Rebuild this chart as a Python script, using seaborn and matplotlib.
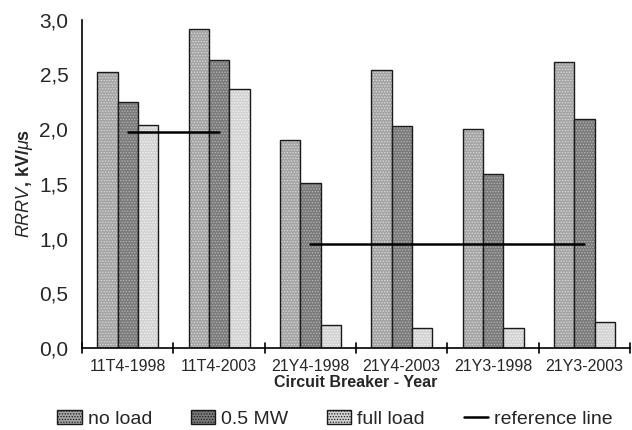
import matplotlib
matplotlib.use("Agg")
import matplotlib.pyplot as plt
import seaborn as sns
import pandas as pd
from matplotlib.patches import Patch
from matplotlib.lines import Line2D

categories = ["11T4-1998", "11T4-2003", "21Y4-1998", "21Y4-2003", "21Y3-1998", "21Y3-2003"]
no_load = [2.52, 2.92, 1.90, 2.54, 2.00, 2.61]
half_mw = [2.25, 2.63, 1.51, 2.03, 1.59, 2.09]
full_load = [2.04, 2.37, 0.21, 0.18, 0.18, 0.235]
series_names = ["no load", "0.5 MW", "full load"]
ref_segments = [("11T4-1998", "11T4-2003", 1.97), ("21Y4-1998", "21Y3-2003", 0.95)]
yticks = [0.0, 0.5, 1.0, 1.5, 2.0, 2.5, 3.0]

sns.set_theme(style="white")
plt.rcParams["font.family"] = ["Liberation Sans", "DejaVu Sans"]
plt.rcParams["mathtext.fontset"] = "custom"
plt.rcParams["mathtext.it"] = "Liberation Sans:italic"
plt.rcParams["mathtext.rm"] = "Liberation Sans:bold"
plt.rcParams["hatch.linewidth"] = 0.6

df = pd.DataFrame({
    "cat": categories * 3,
    "val": no_load + half_mw + full_load,
    "series": sum([[s] * len(categories) for s in series_names], []),
})

colors = ["#a4a4a4", "#7a7a7a", "#d2d2d2"]
hatch_colors = ["#dcdcdc", "#b8b8b8", "#f6f6f6"]

fig = plt.figure(figsize=(6.32, 4.30), dpi=100)
ax = fig.add_axes([0.130, 0.191, 0.867, 0.763])
sns.barplot(data=df, x="cat", y="val", hue="series", order=categories,
            hue_order=series_names, palette=colors, width=0.667, gap=0,
            saturation=1, ax=ax, legend=False, edgecolor="#1a1a1a", linewidth=1.0)

for cont, hc in zip(ax.containers, hatch_colors):
    for bar in cont:
        bar.set_hatch("......")
        bar._hatch_color = matplotlib.colors.to_rgba(hc)

for a, b, v in ref_segments:
    ax.plot([categories.index(a), categories.index(b)], [v, v], color="black", lw=1.8)

ax.set_ylim(0, 3.0)
ax.set_xlim(-0.5, len(categories) - 0.5)
ax.set_yticks(yticks)
ax.set_yticklabels([f"{t:.1f}".replace(".", ",") for t in yticks], fontsize=15)
ax.set_xticks(range(len(categories)))
ax.set_xticklabels(categories, fontsize=11.5)
ax.tick_params(axis="x", length=0, pad=8)
ax.tick_params(axis="y", direction="inout", length=10, width=1.2, pad=5)
for k in range(len(categories) + 1):
    ax.plot([k - 0.5, k - 0.5], [-0.045, 0.045], color="black", lw=1.2,
            clip_on=False, transform=ax.transData)

sns.despine(ax=ax)
for s in ["left", "bottom"]:
    ax.spines[s].set_color("black")
    ax.spines[s].set_linewidth(1.2)

ax.set_xlabel("Circuit Breaker - Year", fontsize=11.5, fontweight="bold", labelpad=1)
ax.set_ylabel(r"$\mathit{RRRV}$, kV/$\mu$s", fontsize=13, fontweight="bold", labelpad=3)

handles = [Patch(facecolor=c, edgecolor="#1a1a1a", hatch="......", lw=1.0) for c in colors]
handles.append(Line2D([0], [0], color="black", lw=1.8))
fig.legend(handles, series_names + ["reference line"], loc="lower center",
           ncol=4, frameon=False, fontsize=14, bbox_to_anchor=(0.530, -0.035),
           handlelength=1.25, handleheight=0.75, handletextpad=0.3, columnspacing=2.0)

fig.savefig("out.png", dpi=100)
